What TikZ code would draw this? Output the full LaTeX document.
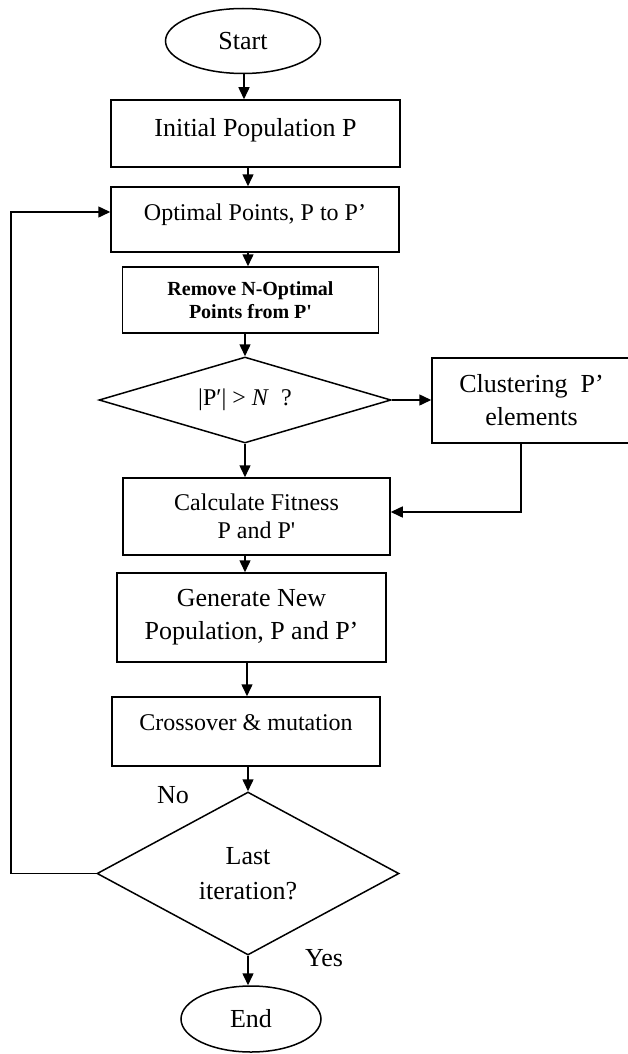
\documentclass[tikz,border=0pt]{standalone}
\usepackage{fontspec}
\setmainfont{Liberation Serif}
\usetikzlibrary{shapes.geometric,arrows.meta}
\begin{document}
\begin{tikzpicture}[x=1pt,y=1pt,
  box/.style={draw, line width=1.5pt, rectangle, inner sep=0pt, align=center},
  term/.style={draw, line width=1.5pt, ellipse, inner sep=0pt},
  dec/.style={draw, line width=1.5pt, diamond, inner sep=0pt, align=center},
  arr/.style={line width=1.5pt, -{Triangle[length=12pt,width=11pt]}},
  conn/.style={line width=1.5pt},
  lbl/.style={inner sep=0pt},
  f26/.style={font=\fontsize{26}{33}\selectfont},
  f24/.style={font=\fontsize{24}{28}\selectfont},
]
\useasboundingbox (0,0) rectangle (628,-1054);

\node[term,f26,minimum width=155,minimum height=65] (start) at (243,-41) {Start};
\node[box,f26,minimum width=289,minimum height=67] (init) at (255.5,-133.5) {\raisebox{13pt}{Initial Population P}};
\node[box,f24,minimum width=288,minimum height=65] (opt) at (255,-219.5) {\raisebox{15pt}{Optimal Points, P to P’}};
\node[box,font=\fontsize{20}{23}\selectfont\bfseries,minimum width=256,minimum height=66] (rem) at (250.5,-300) {Remove N-Optimal\\Points from P\textquotesingle};
\node[dec,f24,minimum width=292,minimum height=86,shape aspect=3.4] (d1) at (245,-400) {|P′| > \textit{N}\enspace ?};
\node[box,f26,minimum width=199,minimum height=85] (clus) at (531.5,-400.5) {Clustering\enspace P’\\elements};
\node[box,f24,minimum width=267,minimum height=77] (calc) at (256.5,-516.5) {Calculate Fitness\\P and P\textquotesingle};
\node[box,f26,minimum width=269,minimum height=89] (gen) at (251.5,-617.5) {Generate New\\Population, P and P’};
\node[box,f24,minimum width=268,minimum height=69] (cross) at (246,-731.5) {\raisebox{17pt}{Crossover \& mutation}};
\node[dec,f26,font=\fontsize{26}{35}\selectfont,minimum width=302,minimum height=163,shape aspect=1.85] (d2) at (248,-873.5) {Last\\iteration?};
\node[term,f26,minimum width=140,minimum height=66] (end) at (251,-1019) {End};
\node[lbl,f26] (no) at (173,-795) {No};
\node[lbl,f26] (yes) at (324,-958) {Yes};
\coordinate (lp) at (11,-873.5);

\draw[arr] ([xshift=1pt]start.south) -- ([xshift=1pt]start.south |- init.north);
\draw[arr] ([xshift=-7.5pt]init.south) -- ([xshift=-7.5pt]init.south |- opt.north);
\draw[arr] ([xshift=-7pt]opt.south) -- ([xshift=-7pt]opt.south |- rem.north);
\draw[arr] (d1.north |- rem.south) -- (d1.north);
\draw[arr] (d1.east) -- (d1.east -| clus.west);
\draw[arr] (d1.south) -- (d1.south |- calc.north);
\draw[arr] ([xshift=-10.5pt]clus.south) |- ([yshift=4.5pt]calc.east);
\draw[arr] ([xshift=-11.5pt]calc.south) -- ([xshift=-11.5pt]calc.south |- gen.north);
\draw[arr] ([xshift=-4.5pt]gen.south) -- ([xshift=-4.5pt]gen.south |- cross.north);
\draw[arr] (d2.north |- cross.south) -- (d2.north);
\draw[arr] (d2.south) -- (d2.south |- end.north);
\draw[conn] (d2.west) -- (lp);
\draw[arr] (lp) |- ([yshift=7.5pt]opt.west);
\end{tikzpicture}
\end{document}
